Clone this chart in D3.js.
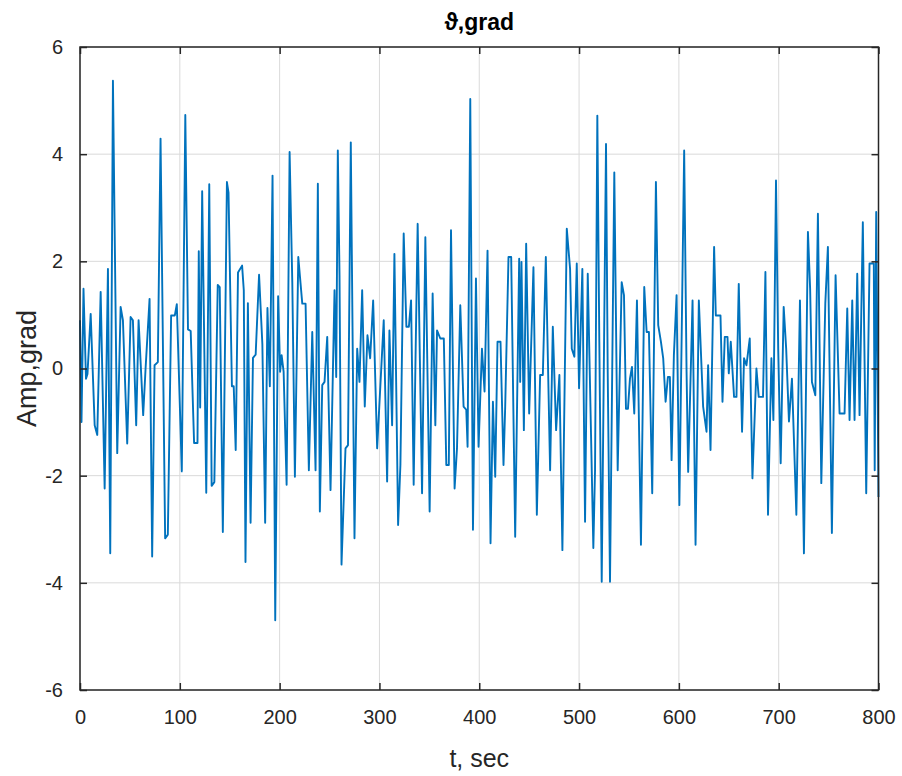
<!DOCTYPE html>
<html><head><meta charset="utf-8">
<script src="https://cdn.jsdelivr.net/npm/d3@7"></script>
<style>
html,body{margin:0;padding:0;background:#fff;}
svg{display:block;font-family:"Liberation Sans",Arial,sans-serif;}
</style></head>
<body><svg id="c" width="902" height="776"></svg>
<script>
const titleText = "\u03D1,grad";
const xLabel = "t, sec";
const yLabel = "Amp,grad";
const xTicks = [0,100,200,300,400,500,600,700,800];
const yTicks = [-6,-4,-2,0,2,4,6];

const times = [
0,1.5,3.5,6,7.5,10.7,14.7,17.3,20.7,24.7,28,30.3,33,37.3,40.7,43,47.3,50.7,53,56.3,58.7,63.3,65.7,69.7,72.3,74.7,78,80.7,85.3,88,91.3,95,97,
102,105.5,108.2,110.9,114.3,117.7,119,120.4,122.4,126.5,129.5,131.9,134.6,138,140,143.1,147.2,148.8,152.2,154,156,158.3,162.4,164.1,165.8,168.2,170.9,173.3,176,179.4,182.7,185.5,187.8,190.2,192.9,195.6,198.5,
200.5,202,204,207,210,212.7,215.3,218.7,222.7,226,229.3,232.7,236,238.3,240.3,242.7,245,247.7,251,255,256.7,258.3,260,262,266,268.5,271.3,275,277.7,280,282.7,285.3,288,290.7,293.7,297.7,
304.3,307.7,310,312.7,315,318.7,321,324.3,327,329.5,331.7,334.3,336,338.3,342.7,346,350.3,353.3,356,357.7,361,364.5,367,369.5,371.7,375.3,377.7,381,384.3,387,388.3,391,393.7,396.7,
399.3,402.7,405.3,408.3,411.3,413.7,416,418.3,421.3,424.3,426,429.3,432,436,440,441,442.3,444.7,447,450,454.3,457.7,461,463.7,466.7,471,473.7,477,480.3,483.3,487.7,491,492.7,495.3,497.7,
500,503.3,506,508.7,512,514.3,516,518.3,520.3,522.7,527,528.7,531,535.3,538.7,542.7,545,547,549,551,553,555.3,558,562,565.3,567.7,570,573.3,577,579.3,582,584.3,586.7,589,591,592.7,595,597.7,
600.5,605.3,607.7,609.3,613.7,616.7,620,624.3,627.7,629.3,631.7,635.3,637,641.7,643.7,646,648.7,650,652,655.3,657.7,660,663.3,665.3,667.7,671,673.7,677.7,680,684.3,686.7,689.3,692.7,694.7,697.3,
699.5,702,705,707.5,710.3,713.3,717.7,721.3,725.3,729.3,731.5,733.3,736.7,739.3,742.7,746.7,749.3,753.3,757,761,766,768.7,771,773.7,776,778.7,781,784.3,787.7,791,795.3,796.2,797.7,800
];
const values = [
0.9,-1.0,1.49,-0.19,-0.1,1.02,-1.06,-1.24,1.43,-2.24,1.86,-3.45,5.37,-1.58,1.15,0.9,-1.4,0.96,0.9,-1.06,0.9,-0.87,0,1.3,-3.51,0.06,0.12,4.29,-3.17,-3.1,0.99,0.99,1.2,
-1.92,4.73,0.73,0.7,-1.39,-1.39,2.19,-0.73,3.31,-2.32,3.44,-2.19,-2.12,1.56,1.52,-3.05,3.48,3.28,-0.33,-0.33,-1.52,1.79,1.92,1.46,-3.61,1.22,-2.88,0.2,0.26,1.75,0.46,-2.88,1.13,-0.33,3.6,-4.7,1.35,
-0.06,0.25,-0.06,-2.17,4.04,1.6,-2.02,2.08,1.21,1.21,-1.9,0.68,-1.9,3.45,-2.67,-0.31,-0.25,0.59,-2.27,1.46,-0.16,4.07,1.74,-3.66,-1.49,-1.43,4.22,-3.17,0.37,-0.25,1.46,-0.71,0.62,0.19,1.27,-1.49,
0.9,-2.11,0.71,-1.06,2.14,-2.92,-1.8,2.52,0.78,0.78,1.27,-2.17,0,2.7,-2.33,2.45,-2.67,1.4,-1.06,0.71,0.56,0.56,-1.8,-1.8,2.58,-2.24,-1.49,1.18,-0.71,-0.77,-1.46,5.03,-3.01,1.68,
-1.46,0.37,-0.43,2.2,-3.26,-0.62,-2.02,0.5,0.5,-1.8,-0.71,2.08,2.08,-3.14,2.05,-0.25,1.99,-1.15,2.33,-0.84,1.89,-2.73,-0.12,-0.12,2.08,-1.9,0.78,-1.15,-0.12,-3.39,2.61,1.86,0.37,0.22,1.96,
-0.37,1.86,-2.86,1.77,-1.24,-3.35,-1.9,4.72,0.5,-3.98,4.19,-0.06,-3.98,3.66,-1.9,1.61,1.37,-0.75,-0.75,-0.19,0.03,-0.84,1.27,-3.29,1.52,0.68,0.68,-2.33,3.48,0.81,0.5,0.19,-0.62,-0.16,-0.16,-1.71,0.25,1.37,
-2.55,4.07,-0.06,-1.93,1.27,-3.29,1.27,-0.71,-1.18,0.06,-1.52,2.27,0.99,0.99,-0.62,0.59,0.59,-0.09,0.5,-0.53,-0.53,1.58,-1.18,0.19,0.06,0.56,-2.05,0,-0.53,-0.53,1.8,-2.73,0.19,-0.96,3.51,
0.37,-1.77,1.15,0.37,-0.99,-0.19,-2.73,1.27,-3.45,2.55,1.49,-0.25,-0.5,2.89,-2.14,1.21,2.27,-3.07,1.74,-0.84,-0.84,1.12,-0.96,1.27,-0.96,1.77,-0.87,2.73,-2.33,1.96,1.96,-1.9,2.92,-2.4
];

const data = times.map((t,i)=>({t, v: values[i]}));

const L=80, R=878.5, T=47, B=690;
const svg = d3.select("#c");
const x = d3.scaleLinear().domain([0,800]).range([L,R]);
const y = d3.scaleLinear().domain([-6,6]).range([B,T]);
const axisColor = "#262626";
const fmt = d => String(d);

// grid
svg.append("g").selectAll("line").data(xTicks).join("line")
  .attr("x1",d=>x(d)).attr("x2",d=>x(d)).attr("y1",T).attr("y2",B)
  .attr("stroke","#dadada").attr("stroke-width",1);
svg.append("g").selectAll("line").data(yTicks).join("line")
  .attr("x1",L).attr("x2",R).attr("y1",d=>y(d)).attr("y2",d=>y(d))
  .attr("stroke","#dadada").attr("stroke-width",1);

// series
svg.append("path").datum(data)
  .attr("fill","none").attr("stroke","#0072BD").attr("stroke-width",1.9)
  .attr("stroke-linejoin","round")
  .attr("d", d3.line().x(d=>x(d.t)).y(d=>y(d.v)));

// axes
function styleAxis(g){
  g.select(".domain").remove();
  g.selectAll(".tick line").attr("stroke",axisColor).attr("stroke-width",1.5);
  g.selectAll(".tick text").attr("fill",axisColor)
   .style("font-family","'Liberation Sans',Arial,sans-serif").style("font-size","20px");
}
svg.append("g").attr("transform",`translate(0,${B})`)
  .call(d3.axisBottom(x).tickValues(xTicks).tickSize(-7).tickPadding(20).tickFormat(fmt))
  .call(styleAxis);
svg.append("g").attr("transform",`translate(0,${T})`)
  .call(d3.axisTop(x).tickValues(xTicks).tickSize(-7).tickFormat(""))
  .call(styleAxis);
svg.append("g").attr("transform",`translate(${L},0)`)
  .call(d3.axisLeft(y).tickValues(yTicks).tickSize(-7).tickPadding(17).tickFormat(fmt))
  .call(styleAxis);
svg.append("g").attr("transform",`translate(${R},0)`)
  .call(d3.axisRight(y).tickValues(yTicks).tickSize(-7).tickFormat(""))
  .call(styleAxis);

// box
svg.append("rect").attr("x",L).attr("y",T).attr("width",R-L).attr("height",B-T)
  .attr("fill","none").attr("stroke",axisColor).attr("stroke-width",1.5);

// labels
svg.append("text").attr("x",(L+R)/2).attr("y",30).attr("text-anchor","middle")
  .attr("font-weight","bold").attr("font-size",23).attr("fill","#000").text(titleText);
svg.append("text").attr("x",(L+R)/2).attr("y",767).attr("text-anchor","middle")
  .attr("font-size",25).attr("fill",axisColor).text(xLabel);
svg.append("text").attr("transform",`translate(36,${(T+B)/2}) rotate(-90)`).attr("text-anchor","middle")
  .attr("font-size",27).attr("fill",axisColor).text(yLabel);
</script></body></html>
